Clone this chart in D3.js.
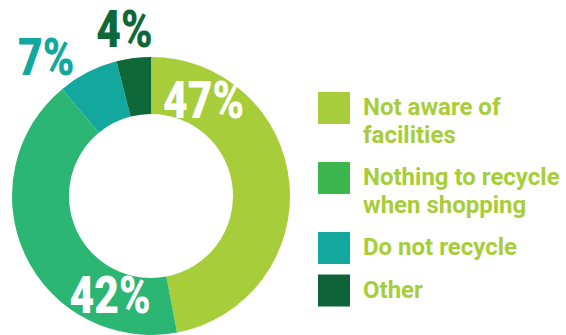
<!DOCTYPE html>
<html>
<head>
<meta charset="utf-8">
<script src="https://cdn.jsdelivr.net/npm/d3@7"></script>
<style>
  body { margin: 0; background: #fff; }
  svg { display: block; }
</style>
</head>
<body>
<div id="chart"></div>
<script>
// data
var categories = ["Not aware of facilities", "Nothing to recycle when shopping", "Do not recycle", "Other"];
var values = [47, 42, 7, 4];
var legendLines = [["Not aware of", "facilities"], ["Nothing to recycle", "when shopping"], ["Do not recycle"], ["Other"]];

var sliceColors  = ["#a8cd3a", "#2bb673", "#13a89e", "#0f6838"];
var legendColors = ["#a8cd3a", "#3db64d", "#13a89e", "#0f6338"];
var labelColors  = ["#fff", "#fff", "#13a89e", "#0f6838"];
// label placement, polar (degrees from 12 o'clock, radius)
var labelPolar = [[28.6, 110], [202.5, 107], [323, 174], [351, 169]];

function renderDonut() {
    var outerWidth = 566, outerHeight = 335;
    var cx = 151, cy = 196, rOuter = 139, rInner = 82;

    var svg = d3.select("#chart").append("svg")
        .attr("width", outerWidth)
        .attr("height", outerHeight);

    var pie = d3.pie().sort(null).value(function(d) { return d; });
    var arc = d3.arc().innerRadius(rInner).outerRadius(rOuter);

    var g = svg.append("g")
        .attr("transform", "translate(" + cx + "," + cy + ")");

    g.selectAll(".slice")
        .data(pie(values))
        .enter().append("path")
        .attr("class", "slice")
        .attr("d", arc)
        .style("fill", function(d, i) { return sliceColors[i]; });

    g.selectAll(".pct")
        .data(values)
        .enter().append("text")
        .attr("class", "pct")
        .attr("transform", function(d, i) {
            var a = labelPolar[i][0] * Math.PI / 180, r = labelPolar[i][1];
            return "translate(" + (r * Math.sin(a)) + "," + (-r * Math.cos(a)) + ") scale(0.82,1)";
        })
        .attr("text-anchor", "middle")
        .attr("dy", ".35em")
        .style("font-family", "Roboto, sans-serif")
        .style("font-weight", "900")
        .style("font-size", "52px")
        .style("fill", function(d, i) { return labelColors[i]; })
        .text(function(d) { return d + "%"; });

    // legend
    var lx = 318, sq = 32, lineH = 27.5, gap = 15;
    var y = 92;
    var legend = svg.append("g");
    categories.forEach(function(c, i) {
        var item = legend.append("g").attr("transform", "translate(" + lx + "," + y + ")");
        item.append("rect")
            .attr("width", sq).attr("height", sq)
            .style("fill", legendColors[i]);
        item.append("text")
            .attr("x", 45)
            .style("font-family", "Roboto, sans-serif")
            .style("font-weight", "700")
            .style("font-size", "24px")
            .style("fill", "#a8cd3a")
            .selectAll("tspan")
            .data(legendLines[i])
            .enter().append("tspan")
            .attr("x", 45)
            .attr("y", function(d, j) { return 23 + j * lineH; })
            .text(function(d) { return d; });
        y += legendLines[i].length * lineH + gap;
    });
}

renderDonut();
</script>
</body>
</html>
